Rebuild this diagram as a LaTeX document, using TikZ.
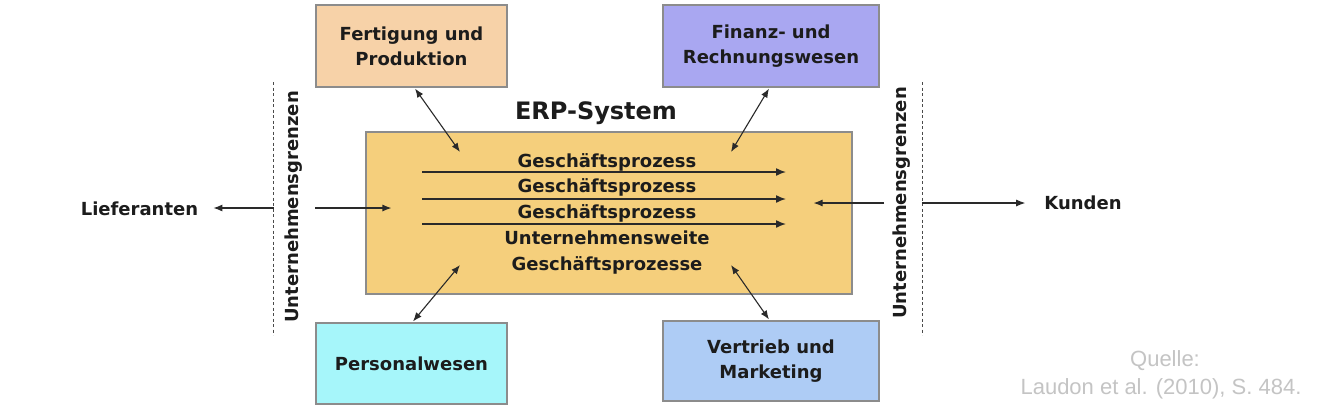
\documentclass[tikz,border=0pt]{standalone}
\usepackage{fontspec}
\setmainfont{DejaVu Sans}
\newfontfamily\quellefont{Liberation Sans}
\usetikzlibrary{arrows.meta,calc}
\definecolor{fertcol}{HTML}{F7D2A8}
\definecolor{fincol}{HTML}{A9A7F1}
\definecolor{perscol}{HTML}{A6F6FA}
\definecolor{vertcol}{HTML}{AECCF5}
\definecolor{erpcol}{HTML}{F5CF7C}
\definecolor{boxline}{HTML}{8C8C8C}
\definecolor{txtcol}{HTML}{1C1C1C}
\definecolor{quellecol}{HTML}{C4C4C4}
\definecolor{arrcol}{HTML}{2A2A2A}
\begin{document}
\begin{tikzpicture}[x=1pt,y=-1pt,
  box/.style={draw=boxline, line width=1.1pt, align=center, inner sep=0pt,
    font=\fontsize{18}{25}\selectfont\bfseries, text=txtcol},
  lbl/.style={font=\fontsize{18}{22}\selectfont\bfseries, text=txtcol, inner sep=0pt},
  conn/.style={draw=arrcol, line width=1.1pt, -{Latex[length=9pt,width=7pt]}},
  dconn/.style={draw=arrcol, line width=1.1pt, {Latex[length=9pt,width=7pt]}-{Latex[length=9pt,width=7pt]}},
  procarrow/.style={draw=arrcol, line width=1.5pt, -{Latex[length=10pt,width=8pt]}},
  border/.style={draw=arrcol!85, line width=1pt, dash pattern=on 3pt off 2.5pt}
]
\useasboundingbox (0,0) rectangle (1330,416);
\fill[white] (0,0) rectangle (1330,416);

% main ERP box
\node[box, fill=erpcol, minimum width=486pt, minimum height=162pt] (erp) at (609,213) {};
\node[font=\fontsize{24}{28}\selectfont\bfseries, text=txtcol, inner sep=0pt] (title) at (596,113) {ERP-System};

% department boxes
\node[box, fill=fertcol, minimum width=191pt, minimum height=82pt] (fert) at (411.5,46) {Fertigung und\\Produktion};
\node[box, fill=fincol, minimum width=216pt, minimum height=82pt] (fin) at (771,46) {Finanz- und\\Rechnungswesen};
\node[box, fill=perscol, minimum width=191pt, minimum height=81pt] (pers) at (411.5,363.5) {Personalwesen};
\node[box, fill=vertcol, minimum width=216pt, minimum height=80pt] (vert) at (771,361) {Vertrieb und\\Marketing};

% process texts
\node[lbl] (p1) at (607,162) {Geschäftsprozess};
\node[lbl] (p2) at (607,187) {Geschäftsprozess};
\node[lbl] (p3) at (607,213) {Geschäftsprozess};
\node[lbl] (p4) at (607,238) {Unternehmensweite};
\node[lbl] (p5) at (607,265) {Geschäftsprozesse};

% process arrows
\coordinate (a1s) at (422,172); \coordinate (a1e) at (786,172);
\coordinate (a2s) at (422,199); \coordinate (a2e) at (786,199);
\coordinate (a3s) at (422,224); \coordinate (a3e) at (786,224);
\draw[procarrow] (a1s) -- (a1e);
\draw[procarrow] (a2s) -- (a2e);
\draw[procarrow] (a3s) -- (a3e);

% double arrows between departments and ERP
\coordinate (fertin) at (460,152);
\coordinate (finin) at (731,152);
\coordinate (persin) at (460,265);
\coordinate (vertin) at (731,265);
\draw[dconn] ($(fert.south)+(3.5,1)$) -- (fertin);
\draw[dconn] ($(fin.south)+(-2,1)$) -- (finin);
\draw[dconn] ($(pers.north)+(1.5,-1)$) -- (persin);
\draw[dconn] ($(vert.north)+(-2,-1)$) -- (vertin);

% company borders
\coordinate (lbt) at (273.5,82); \coordinate (lbb) at (273.5,335);
\coordinate (rbt) at (922,82); \coordinate (rbb) at (922,335);
\draw[border] (lbt) -- (lbb);
\draw[border] (rbt) -- (rbb);
\node[lbl, rotate=90] (lgrenz) at (294,207) {Unternehmensgrenzen};
\node[lbl, rotate=90] (rgrenz) at (902,203) {Unternehmensgrenzen};

% outside partners
\node[lbl] (lief) at (139.5,209) {Lieferanten};
\node[lbl] (kund) at (1083,203) {Kunden};
\coordinate (lbm) at (273.5,208);
\coordinate (rbm) at (922,203);
\coordinate (liefin) at (315,208);
\coordinate (kundin) at (884,203);
\draw[conn] (lbm) -- ($(lief.east)+(15,-1)$);
\draw[conn] (liefin) -- ($(erp.west)+(26,-5)$);
\draw[conn] (rbm) -- ($(kund.west)+(-19,0)$);
\draw[conn] (kundin) -- ($(erp.east)+(-39,-10)$);

% source
\node[font=\quellefont\fontsize{22}{26}\selectfont, text=quellecol, inner sep=0pt] (q1) at (1165,361) {Quelle:};
\node[font=\quellefont\fontsize{22}{26}\selectfont, text=quellecol, inner sep=0pt] (q2) at (1161,389) {Laudon et al. (2010), S. 484.};
\end{tikzpicture}
\end{document}
